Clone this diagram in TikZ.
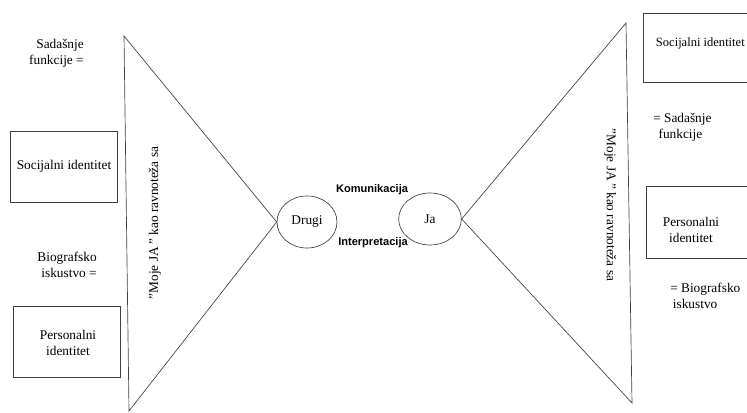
\documentclass[tikz,border=0pt]{standalone}
\usepackage{fontspec}
\setmainfont{Liberation Serif}
\newfontfamily\labelsans{Liberation Sans}
\usetikzlibrary{shapes.geometric}

\tikzset{
  frame/.style={draw=black!75,line width=0.5pt},
  selfcirc/.style={ellipse,draw=black!75,line width=0.5pt,inner sep=0pt},
  txt/.style={font=\fontsize{10}{12}\selectfont,inner sep=0pt},
  flow/.style={font=\labelsans\bfseries\fontsize{8.3}{9}\selectfont,inner sep=0pt}
}

\begin{document}
\begin{tikzpicture}[x=0.75pt,y=-0.75pt]
\useasboundingbox (0,0) rectangle (747,413);
\clip (0,0) rectangle (747,413);

% circles in the middle
\node[selfcirc,minimum width=45pt,minimum height=39pt] (drugi) at (307,222) {\fontsize{10}{12}\selectfont Drugi};
\node[selfcirc,minimum width=47pt,minimum height=39pt] (ja) at (430,219) {\fontsize{10}{12}\selectfont Ja};
\node[flow] (komunikacija) at (372,190) {Komunikacija};
\node[flow] (interpretacija) at (373,243) {Interpretacija};

% left triangle
\coordinate (ltop) at (124,36);
\coordinate (lbot) at (129,411);
\draw[frame] (ltop) -- (lbot) -- (drugi.west) -- cycle;
\node[txt,rotate=90] (lmoje) at (155,223) {"Moje JA\,"\ kao ravnoteža sa};

% right triangle
\coordinate (rtop) at (626,23);
\coordinate (rbot) at (632,403);
\draw[frame] (rtop) -- (rbot) -- (ja.east) -- cycle;
\node[txt,rotate=-90] (rmoje) at (610,205) {"Moje JA\,"\ kao ravnoteža sa};

% left column
\node[txt,align=right,anchor=east] (lsad) at (84,53.5) {Sadašnje\\funkcije =};
\draw[frame] (10,131) rectangle (117,202);
\node[txt] (lsoc) at (64,166) {Socijalni identitet};
\node[txt,align=right,anchor=east] (lbio) at (97,265) {Biografsko\\iskustvo =};
\draw[frame] (13,306) rectangle (120,377);
\node[txt,align=center] (lpers) at (68,342.5) {Personalni\\identitet};

% right column
\draw[frame] (643,13) rectangle (775,82);
\node[txt,font=\fontsize{9.4}{12}\selectfont,anchor=east] (rsoc) at (745,43) {Socijalni identitet};
\node[txt,align=left,anchor=west] (rsad) at (653,127.5) {= Sadašnje\\\hspace*{4pt}funkcije};
\draw[frame] (646,186) rectangle (775,258);
\node[txt,align=center] (rpers) at (691,230) {Personalni\\identitet};
\node[txt,align=left,anchor=west] (rbio) at (670,295.5) {= Biografsko\\\hspace*{2pt}iskustvo};

\end{tikzpicture}
\end{document}
